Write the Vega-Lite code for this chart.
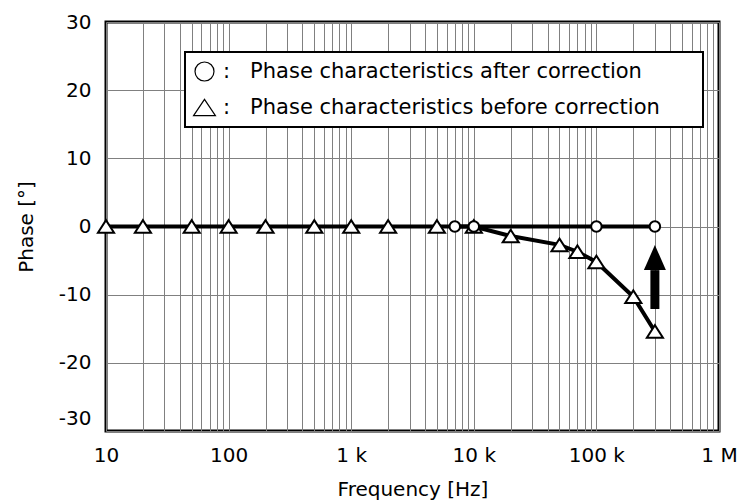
{
  "$schema": "https://vega.github.io/schema/vega-lite/v6.json",
  "width": 613,
  "height": 409,
  "autosize": "none",
  "padding": {"left": 106, "top": 22, "right": 22, "bottom": 73},
  "background": "white",
  "datasets": {
    "series": [
      {"series": "before", "freq": 10, "phase": 0},
      {"series": "before", "freq": 20, "phase": 0},
      {"series": "before", "freq": 50, "phase": 0},
      {"series": "before", "freq": 100, "phase": 0},
      {"series": "before", "freq": 200, "phase": 0},
      {"series": "before", "freq": 500, "phase": 0},
      {"series": "before", "freq": 1000, "phase": 0},
      {"series": "before", "freq": 2000, "phase": 0},
      {"series": "before", "freq": 5000, "phase": 0},
      {"series": "before", "freq": 10000, "phase": 0},
      {"series": "before", "freq": 20000, "phase": -1.4},
      {"series": "before", "freq": 50000, "phase": -2.7},
      {"series": "before", "freq": 70000, "phase": -3.7},
      {"series": "before", "freq": 100000, "phase": -5.2},
      {"series": "before", "freq": 200000, "phase": -10.3},
      {"series": "before", "freq": 300000, "phase": -15.4},
      {"series": "after", "freq": 7000, "phase": 0},
      {"series": "after", "freq": 10000, "phase": 0},
      {"series": "after", "freq": 100000, "phase": 0},
      {"series": "after", "freq": 300000, "phase": 0}
    ],
    "arrow": [{"freq": 300000, "from": -12.1, "to": -6.4}],
    "head": [{"freq": 300000, "phase": -4.55}]
  },
  "config": {
    "view": {"stroke": "black", "strokeWidth": 3},
    "axis": {
      "grid": true,
      "gridColor": "#808080",
      "gridWidth": 1,
      "domain": false,
      "ticks": false,
      "labelFont": "DejaVu Sans",
      "labelFontSize": 20,
      "labelColor": "black",
      "titleFont": "DejaVu Sans",
      "titleFontSize": 20,
      "titleFontWeight": "normal",
      "titleColor": "black"
    },
    "legend": {"strokeWidth": 2}
  },
  "layer": [
    {
      "data": {"name": "series"},
      "mark": {"type": "line", "color": "black", "strokeWidth": 4},
      "encoding": {
        "x": {
          "field": "freq",
          "type": "quantitative",
          "title": "Frequency [Hz]",
          "scale": {"type": "log", "domain": [10, 1000000], "nice": false},
          "axis": {
            "values": [10, 20, 30, 40, 50, 60, 70, 80, 90, 100, 200, 300, 400, 500, 600, 700, 800, 900, 1000, 2000, 3000, 4000, 5000, 6000, 7000, 8000, 9000, 10000, 20000, 30000, 40000, 50000, 60000, 70000, 80000, 90000, 100000, 200000, 300000, 400000, 500000, 600000, 700000, 800000, 900000, 1000000],
            "labelExpr": "datum.value == 10 ? '10' : datum.value == 100 ? '100' : datum.value == 1000 ? '1 k' : datum.value == 10000 ? '10 k' : datum.value == 100000 ? '100 k' : datum.value == 1000000 ? '1 M' : ''",
            "labelPadding": 14,
            "titlePadding": 14,
            "labelFlush": false,
            "labelOverlap": false,
            "labelBound": false
          }
        },
        "y": {
          "field": "phase",
          "type": "quantitative",
          "title": "Phase [°]",
          "scale": {"domain": [-30, 30], "nice": false, "zero": false},
          "axis": {
            "values": [-30, -20, -10, 0, 10, 20, 30],
            "labelExpr": "replace(datum.label, '\u2212', '-')",
            "labelPadding": 15,
            "titlePadding": 22,
            "labelOffset": {"condition": {"test": "datum.value == -30", "value": -13}, "value": 0}
          }
        },
        "detail": {"field": "series", "type": "nominal"}
      }
    },
    {
      "data": {"name": "series"},
      "mark": {"type": "point", "filled": false, "color": "black", "strokeWidth": 1.2, "opacity": 0, "size": 360},
      "encoding": {
        "x": {"field": "freq", "type": "quantitative", "title": "Frequency [Hz]"},
        "y": {"field": "phase", "type": "quantitative", "title": "Phase [°]"},
        "shape": {
          "field": "series",
          "type": "nominal",
          "scale": {"domain": ["after", "before"], "range": ["circle", "M-1.15,0.85L0,-0.85L1.15,0.85Z"]},
          "legend": {
            "orient": "none",
            "legendX": 79,
            "legendY": 30,
            "title": null,
            "fillColor": "white",
            "strokeColor": "black",
            "padding": 9,
            "rowPadding": 12,
            "labelFont": "DejaVu Sans",
            "labelFontSize": 21,
            "labelColor": "black",
            "labelLimit": 1000,
            "labelOffset": 8,
            "symbolSize": 360,
            "symbolOpacity": 1,
            "symbolStrokeWidth": 1.2,
            "symbolStrokeColor": "black",
            "labelExpr": "datum.value == 'after' ? ':\u00a0\u00a0\u00a0Phase characteristics after correction\u00a0\u00a0\u00a0\u00a0\u00a0\u200b' : ':\u00a0\u00a0\u00a0Phase characteristics before correction\u00a0\u00a0\u00a0\u00a0\u00a0\u200b'"
          }
        }
      }
    },
    {
      "data": {"name": "series"},
      "transform": [{"filter": "datum.series == 'before'"}],
      "mark": {"type": "point", "shape": "M-1.15,0.9L0,-0.9L1.15,0.9Z", "filled": true, "fill": "white", "stroke": "black", "strokeWidth": 2, "opacity": 1, "size": 196},
      "encoding": {
        "x": {"field": "freq", "type": "quantitative", "title": "Frequency [Hz]"},
        "y": {"field": "phase", "type": "quantitative", "title": "Phase [°]"}
      }
    },
    {
      "data": {"name": "series"},
      "transform": [{"filter": "datum.series == 'after'"}],
      "mark": {"type": "point", "shape": "circle", "filled": true, "fill": "white", "stroke": "black", "strokeWidth": 2, "opacity": 1, "size": 110},
      "encoding": {
        "x": {"field": "freq", "type": "quantitative", "title": "Frequency [Hz]"},
        "y": {"field": "phase", "type": "quantitative", "title": "Phase [°]"}
      }
    },
    {
      "data": {"name": "arrow"},
      "mark": {"type": "rule", "color": "black", "strokeWidth": 9, "strokeCap": "butt"},
      "encoding": {
        "x": {"field": "freq", "type": "quantitative", "title": "Frequency [Hz]"},
        "y": {"field": "from", "type": "quantitative", "title": "Phase [°]"},
        "y2": {"field": "to"}
      }
    },
    {
      "data": {"name": "head"},
      "mark": {"type": "point", "shape": "M-0.88,1L0,-1L0.88,1Z", "size": 625, "filled": true, "color": "black", "opacity": 1, "strokeWidth": 0},
      "encoding": {
        "x": {"field": "freq", "type": "quantitative", "title": "Frequency [Hz]"},
        "y": {"field": "phase", "type": "quantitative", "title": "Phase [°]"}
      }
    }
  ]
}
